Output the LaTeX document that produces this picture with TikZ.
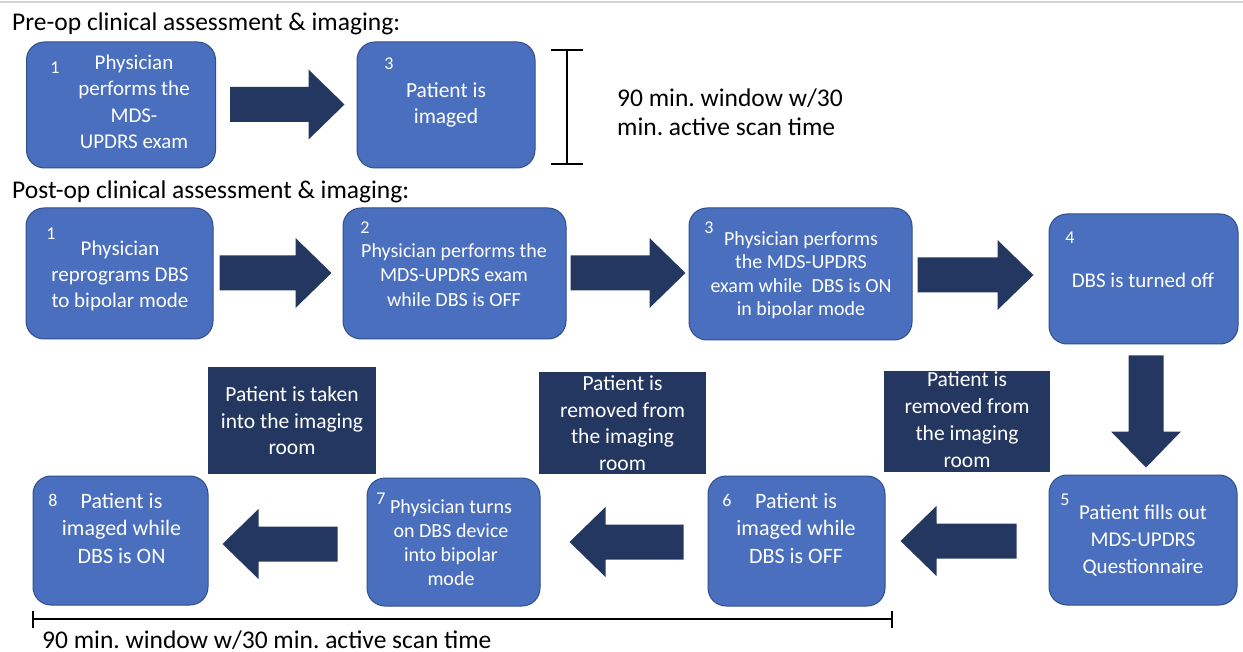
\documentclass[tikz,border=0pt]{standalone}
\usepackage{fontspec}
\setmainfont{Carlito}
\usetikzlibrary{calc}
\definecolor{boxc}{HTML}{4A6FBE}
\definecolor{edgec}{HTML}{2F4F8A}
\definecolor{navyc}{HTML}{243761}
\definecolor{rulec}{HTML}{D5D5D5}
\newcommand\blkarrow[2]{%
  \fill[navyc] let \p1=(#1), \p2=(#2), \n1={atan2(\y2-\y1,\x2-\x1)} in
    ($(\p1)+(\n1+90:17.5pt)$) --
    ($(\p2)+(\n1+180:36pt)+(\n1+90:17.5pt)$) --
    ($(\p2)+(\n1+180:36pt)+(\n1+90:35pt)$) --
    (\p2) --
    ($(\p2)+(\n1+180:36pt)+(\n1-90:35pt)$) --
    ($(\p2)+(\n1+180:36pt)+(\n1-90:17.5pt)$) --
    ($(\p1)+(\n1-90:17.5pt)$) -- cycle;}
\begin{document}
\frenchspacing
\begin{tikzpicture}[x=1pt,y=-1pt,
  stepbox/.style={draw=edgec, fill=boxc, line width=1pt, rounded corners=18pt, inner sep=0pt},
  lblbox/.style={fill=navyc, draw=none, inner sep=0pt},
  txt/.style={text=white, align=center, inner sep=0pt},
  num/.style={text=white, font={\fontsize{18}{21}\selectfont}, inner sep=0pt},
  heading/.style={anchor=base west, font={\fontsize{25.5}{29}\selectfont}, inner sep=0pt},
  rulebar/.style={line width=2.5pt, black}]
\useasboundingbox (0,0) rectangle (1243,652);
\fill[white] (0,0) rectangle (1243,652);
\draw[rulec, line width=2pt] (0,2.5) -- (1243,2.5);

% ---------- Pre-op ----------
\node[heading] (preh) at (12,31) {Pre-op clinical assessment \& imaging:};
\node[stepbox, minimum width=189pt, minimum height=126pt] (P1) at (121,105) {};
\node[num] (P1n) at (55,68) {1};
\node[txt, font={\fontsize{21}{26.5}\selectfont}] (P1t) at (134,102) {Physician\\performs the\\MDS-\\UPDRS exam};
\node[stepbox, minimum width=178pt, minimum height=126pt] (P3) at (446,105) {};
\node[num] (P3n) at (389,64) {3};
\node[txt, font={\fontsize{21.5}{26.5}\selectfont}] (P3t) at (446,105) {Patient is\\imaged};
\coordinate (pa1) at ($(P1.east)+(14,-0.5)$);
\coordinate (pa2) at ($(P3.west)+(-12,-0.5)$);
\blkarrow{pa1}{pa2}
\coordinate (brT) at (567,50);
\coordinate (brB) at (567,164);
\draw[rulebar] (brT) -- (brB);
\draw[rulebar] ($(brT)+(-16,0)$) -- ($(brT)+(16,0)$);
\draw[rulebar] ($(brB)+(-16,0)$) -- ($(brB)+(16,0)$);
\node[anchor=west, align=left, inner sep=0pt, font={\fontsize{25.5}{29}\selectfont}] (wintop) at (617,112) {90 min. window w/30\\min. active scan time};

% ---------- Post-op ----------
\node[heading] (posth) at (12,199) {Post-op clinical assessment \& imaging:};

\node[stepbox, minimum width=187pt, minimum height=131pt] (B1) at (119.5,273.5) {};
\node[num] (B1n) at (51,234) {1};
\node[txt, font={\fontsize{21}{26}\selectfont}] (B1t) at (120,276) {Physician\\reprograms DBS\\to bipolar mode};

\node[stepbox, minimum width=223pt, minimum height=131pt] (B2) at (454.5,273.5) {};
\node[num] (B2n) at (365,228) {2};
\node[txt, font={\fontsize{20}{24.5}\selectfont}] (B2t) at (454,275) {Physician performs the\\MDS-UPDRS exam\\while DBS is OFF};

\node[stepbox, minimum width=223pt, minimum height=132pt] (B3) at (800.5,274) {};
\node[num] (B3n) at (709,228) {3};
\node[txt, font={\fontsize{20}{23.5}\selectfont}] (B3t) at (801,275) {Physician performs\\the MDS-UPDRS\\exam while\ \ DBS is ON\\in bipolar mode};

\node[stepbox, minimum width=189pt, minimum height=130pt] (B4) at (1143.5,279) {};
\node[num] (B4n) at (1070,238) {4};
\node[txt, font={\fontsize{21}{26}\selectfont}] (B4t) at (1143,280) {DBS is turned off};

\node[stepbox, minimum width=188pt, minimum height=130pt] (B5) at (1143,540) {};
\node[num] (B5n) at (1065,500) {5};
\node[txt, font={\fontsize{21}{27}\selectfont}] (B5t) at (1143,541) {Patient fills out\\MDS-UPDRS\\Questionnaire};

\node[stepbox, minimum width=177pt, minimum height=130pt] (B6) at (796.5,541) {};
\node[num] (B6n) at (727,500) {6};
\node[txt, font={\fontsize{22}{27.5}\selectfont}] (B6t) at (796,528) {Patient is\\imaged while\\DBS is OFF};

\node[stepbox, minimum width=173pt, minimum height=128pt] (B7) at (453.5,542) {};
\node[num] (B7n) at (381,499) {7};
\node[txt, font={\fontsize{20}{24}\selectfont}] (B7t) at (451,543) {Physician turns\\on DBS device\\into bipolar\\mode};

\node[stepbox, minimum width=175pt, minimum height=129pt] (B8) at (120.5,540.5) {};
\node[num] (B8n) at (53,500) {8};
\node[txt, font={\fontsize{22}{27.5}\selectfont}] (B8t) at (121.5,528) {Patient is\\imaged while\\DBS is ON};

% ---------- labels ----------
\node[lblbox, minimum width=168pt, minimum height=107pt] (L1) at (292,420.5) {};
\node[txt, font={\fontsize{21.5}{26.5}\selectfont}] (L1t) at (292,421) {Patient is taken\\into the imaging\\room};
\node[lblbox, minimum width=167pt, minimum height=102pt] (L2) at (622.5,423) {};
\node[txt, font={\fontsize{21.5}{26.5}\selectfont}] (L2t) at (622.5,423) {Patient is\\removed from\\the imaging\\room};
\node[lblbox, minimum width=166pt, minimum height=101pt] (L3) at (967,421.5) {};
\node[txt, font={\fontsize{21.5}{27}\selectfont}] (L3t) at (967,420) {Patient is\\removed from\\the imaging\\room};

% ---------- block arrows ----------
\coordinate (a12s) at ($(B1.east)+(6,-0.5)$);
\coordinate (a12t) at ($(B2.west)+(-11,-0.5)$);
\blkarrow{a12s}{a12t}
\coordinate (a23s) at ($(B2.east)+(4,-0.5)$);
\coordinate (a23t) at ($(B3.west)+(-3,-1)$);
\blkarrow{a23s}{a23t}
\coordinate (a34s) at ($(B3.east)+(5,1)$);
\coordinate (a34t) at ($(B4.west)+(-15,-4)$);
\blkarrow{a34s}{a34t}
\coordinate (a45s) at ($(B4.south)+(2.5,11)$);
\coordinate (a45t) at ($(B5.north)+(3,-7)$);
\blkarrow{a45s}{a45t}
\coordinate (a56s) at ($(B5.west)+(-32,1)$);
\coordinate (a56t) at ($(B6.east)+(15,0)$);
\blkarrow{a56s}{a56t}
\coordinate (a67s) at ($(B6.west)+(-24,1)$);
\coordinate (a67t) at ($(B7.east)+(29,0)$);
\blkarrow{a67s}{a67t}
\coordinate (a78s) at ($(B7.west)+(-29,2)$);
\coordinate (a78t) at ($(B8.east)+(14,3.5)$);
\blkarrow{a78s}{a78t}

% ---------- time line ----------
\coordinate (tlL) at (33,619);
\coordinate (tlR) at (892,619);
\draw[rulebar] (tlL) -- (tlR);
\draw[rulebar] ($(tlL)+(0,-8)$) -- ($(tlL)+(0,9)$);
\draw[rulebar] ($(tlR)+(0,-8)$) -- ($(tlR)+(0,9)$);
\node[heading] (winbot) at (42,648) {90 min. window w/30 min. active scan time};
\end{tikzpicture}
\end{document}
